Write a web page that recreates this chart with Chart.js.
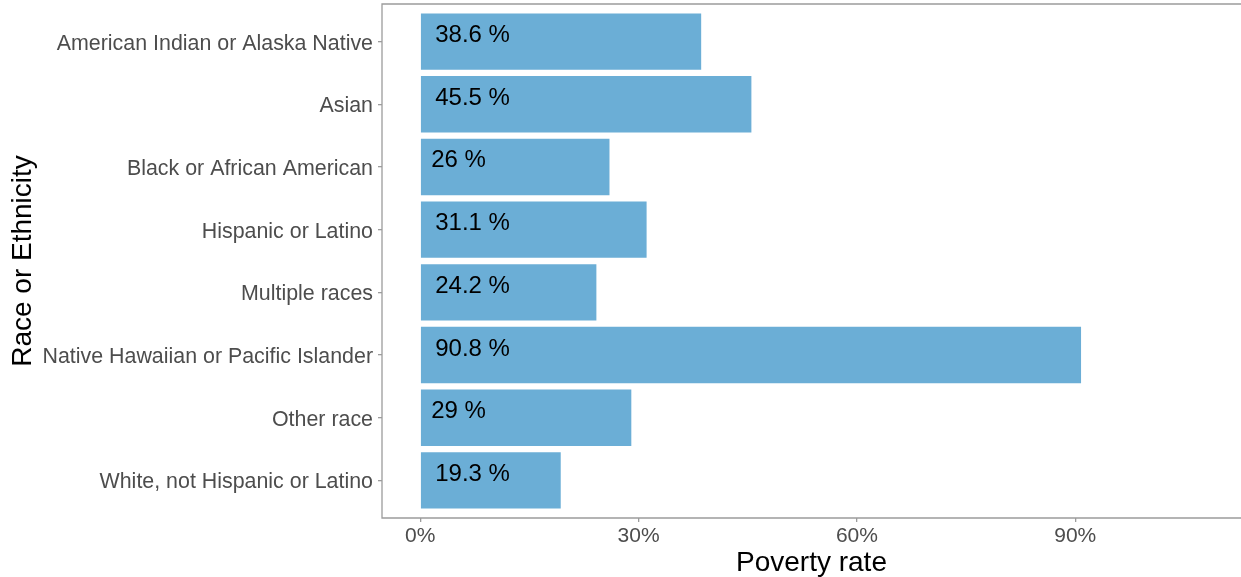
<!DOCTYPE html>
<html>
<head>
<meta charset="utf-8">
<script src="https://cdn.jsdelivr.net/npm/chart.js@4"></script>
<style>
  body { margin: 0; background: #fff; }
  canvas { display: block; }
</style>
</head>
<body>
<canvas id="myChart" width="1241" height="577"></canvas>
<script>
const categories = [
  'American Indian or Alaska Native',
  'Asian',
  'Black or African American',
  'Hispanic or Latino',
  'Multiple races',
  'Native Hawaiian or Pacific Islander',
  'Other race',
  'White, not Hispanic or Latino'
];
const rates = [38.6, 45.5, 26, 31.1, 24.2, 90.8, 29, 19.3];
const rateLabels = ['38.6 %', '45.5 %', '26 %', '31.1 %', '24.2 %', '90.8 %', '29 %', '19.3 %'];
const xTicks = [0, 30, 60, 90];

const FONT = '"Liberation Sans", Arial, sans-serif';
const LINE = '#9c9c9c';

// text labels inside the bars, like geom_text(hjust = -0.2) at x = 0
const barLabels = {
  id: 'barLabels',
  afterDatasetsDraw(chart) {
    const ctx = chart.ctx;
    const x0 = chart.scales.x.getPixelForValue(0);
    ctx.save();
    ctx.font = '24px ' + FONT;
    ctx.fillStyle = '#000';
    ctx.textAlign = 'left';
    ctx.textBaseline = 'alphabetic';
    chart.getDatasetMeta(0).data.forEach((bar, i) => {
      const w = ctx.measureText(rateLabels[i]).width;
      ctx.fillText(rateLabels[i], x0 + 0.2 * w, bar.y + 0.5);
    });
    ctx.restore();
  }
};

// panel border: left, top, bottom (right side runs off the picture)
const panelBorder = {
  id: 'panelBorder',
  afterDraw(chart) {
    const {left, top, bottom} = chart.chartArea;
    const ctx = chart.ctx;
    ctx.save();
    ctx.strokeStyle = LINE;
    ctx.lineWidth = 1.3;
    ctx.beginPath();
    ctx.moveTo(chart.width + 2, top);
    ctx.lineTo(left, top);
    ctx.lineTo(left, bottom);
    ctx.lineTo(chart.width + 2, bottom);
    ctx.stroke();
    ctx.restore();
  }
};

let ctx = document.getElementById('myChart');

new Chart(ctx, {
  type: 'bar',
  data: {
    datasets: [{
      data: rates.map((v, i) => ({x: v, y: i})),
      backgroundColor: '#6BAED6',
      borderWidth: 0,
      barPercentage: 0.9,
      categoryPercentage: 1
    }]
  },
  options: {
    indexAxis: 'y',
    responsive: false,
    animation: false,
    layout: { padding: { left: 0, right: 0, top: 4, bottom: 0 } },
    plugins: {
      legend: { display: false },
      tooltip: { enabled: false }
    },
    scales: {
      x: {
        type: 'linear',
        min: -5.26,
        max: 112.78,
        afterBuildTicks: axis => { axis.ticks = xTicks.map(v => ({value: v})); },
        afterFit: scale => { scale.height = 59; scale.paddingLeft = 0; scale.paddingRight = 0; },
        ticks: {
          callback: v => v + '%',
          color: '#4d4d4d',
          font: { family: FONT, size: 21 },
          padding: 2
        },
        grid: { drawOnChartArea: false, drawTicks: true, tickLength: 4, color: LINE, lineWidth: 1.3 },
        border: { display: false },
        title: {
          display: true,
          text: 'Poverty rate',
          color: '#000',
          font: { family: FONT, size: 28, lineHeight: 1 },
          padding: { top: 0, bottom: 0 }
        }
      },
      y: {
        type: 'linear',
        min: -0.6,
        max: 7.6,
        reverse: true,
        offset: false,
        afterBuildTicks: axis => { axis.ticks = categories.map((c, i) => ({value: i})); },
        afterFit: scale => { scale.width = 382; scale.paddingTop = 0; scale.paddingBottom = 0; },
        ticks: {
          callback: v => categories[v],
          color: '#4d4d4d',
          font: { family: FONT, size: 21.4 },
          padding: 5,
          labelOffset: 2
        },
        grid: { offset: false, drawOnChartArea: false, drawTicks: true, tickLength: 4, color: LINE, lineWidth: 1.3 },
        border: { display: false },
        title: {
          display: true,
          text: 'Race or Ethnicity',
          color: '#000',
          font: { family: FONT, size: 28, lineHeight: 1 },
          padding: { top: 9, bottom: 0 }
        }
      }
    }
  },
  plugins: [barLabels, panelBorder]
});
</script>
</body>
</html>
